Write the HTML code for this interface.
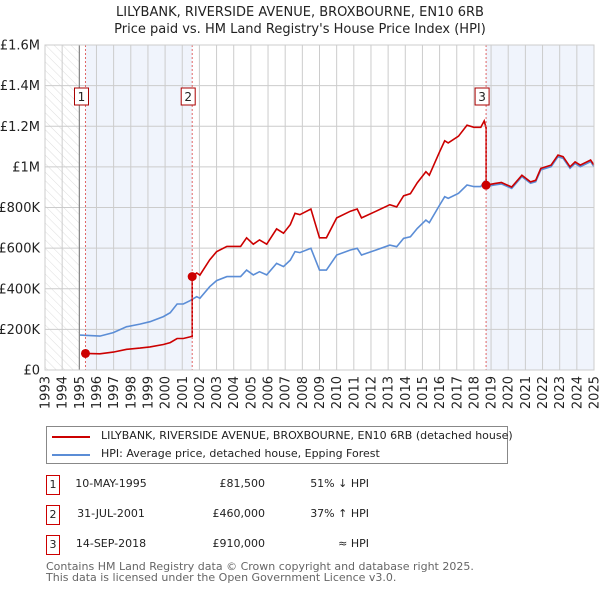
<!DOCTYPE html>
<html><head><meta charset="utf-8"><style>
body{margin:0;background:#fff;font-family:"DejaVu Sans","Liberation Sans",sans-serif;}
#wrap{position:relative;width:600px;height:590px;overflow:hidden}
.t{position:absolute;font-size:11px;color:#222;white-space:nowrap}
</style></head><body><div id="wrap">
<svg id="chart" width="600" height="420" style="position:absolute;left:0;top:0"></svg>
<div style="position:absolute;left:46px;top:426px;width:460px;height:36px;border:1px solid #888;">
 <div style="position:absolute;left:5px;top:9px;width:38px;height:2px;background:#cc0000"></div>
 <div class="t" style="left:54px;top:2px">LILYBANK, RIVERSIDE AVENUE, BROXBOURNE, EN10 6RB (detached house)</div>
 <div style="position:absolute;left:5px;top:27px;width:38px;height:2px;background:#5b8dd6"></div>
 <div class="t" style="left:54px;top:20px">HPI: Average price, detached house, Epping Forest</div>
</div>
<div id="rows"></div>
<div class="t" style="left:46px;top:561px;color:#666;line-height:11px">Contains HM Land Registry data © Crown copyright and database right 2025.<br>This data is licensed under the Open Government Licence v3.0.</div>
</div>
<script>
const years=[1995.04,1996.2,1996.98,1997.76,1998.53,1999.12,1999.9,2000.3,2000.7,2001.06,2001.45,2001.84,2002.03,2002.6,2003.0,2003.6,2004.4,2004.75,2005.14,2005.5,2005.92,2006.5,2006.9,2007.3,2007.57,2007.86,2008.5,2009.0,2009.4,2010.0,2010.8,2011.2,2011.45,2012.3,2013.1,2013.5,2013.9,2014.3,2014.7,2015.2,2015.4,2016.0,2016.3,2016.5,2017.1,2017.6,2018.0,2018.4,2018.6,2018.7,2019.2,2019.6,2020.2,2020.8,2021.3,2021.6,2021.9,2022.5,2022.9,2023.2,2023.6,2023.9,2024.2,2024.8,2025.0];
const hpi=[172,167,184,213,226,238,263,282,325,325,341,361,353,410,440,460,460,492,468,484,468,525,509,541,583,578,599,492,492,566,591,599,566,591,615,607,648,656,697,738,725,812,853,845,870,911,903,903,927,903,911,916,894,952,919,927,985,1001,1050,1042,993,1017,1001,1026,1001];
const saleYears=[1995.36,2001.58,2018.71];
const salePrices=[81.5,460,910];
const saleLabels=["1","2","3"];
const saleDates=["10-MAY-1995","31-JUL-2001","14-SEP-2018"];
const salePriceText=["£81,500","£460,000","£910,000"];
const saleHpiText=["51% ↓ HPI","37% ↑ HPI","≈ HPI"];
const yTicks=[0,200,400,600,800,1000,1200,1400,1600];
const yTickLabels=["£0","£200K","£400K","£600K","£800K","£1M","£1.2M","£1.4M","£1.6M"];
const xYears=[];for(let y=1993;y<=2025;y++)xYears.push(y);

const X0=45,X1=594,Y0=370,Y1=45;
const xs=y=>X0+(y-1993)/32*(X1-X0);
const ys=v=>Y0-v/1600*(Y0-Y1);
const svg=document.getElementById('chart');const NS='http://www.w3.org/2000/svg';
function mk(t,a,p){const e=document.createElementNS(NS,t);for(const k in a)e.setAttribute(k,a[k]);(p||svg).appendChild(e);return e;}
const defs=mk('defs',{});
const pat=mk('pattern',{id:'hatch',width:6,height:6,patternUnits:'userSpaceOnUse',patternTransform:'rotate(-45)'},defs);
mk('line',{x1:0,y1:0,x2:0,y2:6,stroke:'#ddd','stroke-width':1},pat);
let e=mk('rect',{x:X0,y:Y1,width:xs(1995)-X0,height:Y0-Y1,fill:'url(#hatch)'});

e=mk('rect',{x:xs(saleYears[0]),y:Y1,width:xs(saleYears[1])-xs(saleYears[0]),height:Y0-Y1,fill:'#f0f4fc'});

e=mk('rect',{x:xs(saleYears[2]),y:Y1,width:X1-xs(saleYears[2]),height:Y0-Y1,fill:'#f0f4fc'});

xYears.forEach(y=>{const l=mk('line',{x1:xs(y),x2:xs(y),y1:Y1,y2:Y0,stroke:'#ccc','stroke-width':1});

const t=mk('text',{x:0,y:0,'font-size':13,fill:'#222','text-anchor':'end',transform:`translate(${xs(y)+4.5},${Y0+6}) rotate(-90)`});t.textContent=y;
});
yTicks.forEach((v,i)=>{const l=mk('line',{x1:X0,x2:X1,y1:ys(v),y2:ys(v),stroke:'#ccc','stroke-width':1});

const t=mk('text',{x:40,y:ys(v)+4.5,'font-size':13,fill:'#222','text-anchor':'end'});t.textContent=yTickLabels[i];
});
e=mk('line',{x1:xs(1995),x2:xs(1995),y1:Y1,y2:Y0,stroke:'#777','stroke-width':1});

function hpiAt(y){if(y<=years[0])return hpi[0];for(let i=1;i<years.length;i++){if(y<=years[i]){const f=(y-years[i-1])/(years[i]-years[i-1]);return hpi[i-1]+f*(hpi[i]-hpi[i-1]);}}return hpi[hpi.length-1];}
let d=years.map((y,i)=>(i?'L':'M')+xs(y).toFixed(1)+','+ys(hpi[i]).toFixed(1)).join('');
e=mk('path',{d,fill:'none',stroke:'#5b8dd6','stroke-width':1.6});

let pts=[];
for(let s=0;s<saleYears.length;s++){const r=salePrices[s]/hpiAt(saleYears[s]);const end=s+1<saleYears.length?saleYears[s+1]:2025.01;
if(s>0)pts.push([saleYears[s],pts[pts.length-1][1]]);
pts.push([saleYears[s],salePrices[s]]);
years.forEach((y,i)=>{if(y>saleYears[s]&&y<end)pts.push([y,hpi[i]*r]);});
if(s+1<saleYears.length)pts.push([end,hpiAt(end)*r]);}
d=pts.map((p,i)=>(i?'L':'M')+xs(p[0]).toFixed(1)+','+ys(p[1]).toFixed(1)).join('');
e=mk('path',{d,fill:'none',stroke:'#cc0000','stroke-width':1.6});

saleYears.forEach((y,i)=>{
const l=mk('line',{x1:xs(y),x2:xs(y),y1:Y1,y2:Y0,stroke:'#e06666','stroke-width':1,'stroke-dasharray':'2,2'});

const c=mk('circle',{cx:xs(y),cy:ys(salePrices[i]),r:4.5,fill:'#cc0000'});

const bx=xs(y)-4;const b=mk('rect',{x:bx-7,y:88,width:14,height:17,fill:'#fff',stroke:'#aa0000','stroke-width':1});

const t=mk('text',{x:bx,y:101,'font-size':12,'text-anchor':'middle',fill:'#222'});t.textContent=saleLabels[i];
});
e=mk('rect',{x:X0,y:Y1,width:X1-X0,height:Y0-Y1,fill:'none',stroke:'#ccc'});

const t1=mk('text',{x:300,y:16,'font-size':13,'text-anchor':'middle',fill:'#222'});t1.textContent='LILYBANK, RIVERSIDE AVENUE, BROXBOURNE, EN10 6RB';

const t2=mk('text',{x:300,y:33,'font-size':13,'text-anchor':'middle',fill:'#222'});t2.textContent="Price paid vs. HM Land Registry's House Price Index (HPI)";

const rows=document.getElementById('rows');const rowY=[475,505,535];
saleYears.forEach((y,i)=>{const r=document.createElement('div');


r.style.cssText=`position:absolute;left:0;top:${rowY[i]}px;width:600px;height:20px`;
r.innerHTML=`<div class="t" style="left:46px;top:0;width:12px;height:18px;border:1px solid #cc0000;text-align:center;line-height:18px">${saleLabels[i]}</div>
<div class="t" style="left:60px;top:2px;width:102px;text-align:center">${saleDates[i]}</div>
<div class="t" style="left:170px;top:2px;width:95px;text-align:right">${salePriceText[i]}</div>
<div class="t" style="left:270px;top:2px;width:99px;text-align:right">${saleHpiText[i]}</div>`;
rows.appendChild(r);});
</script></body></html>
